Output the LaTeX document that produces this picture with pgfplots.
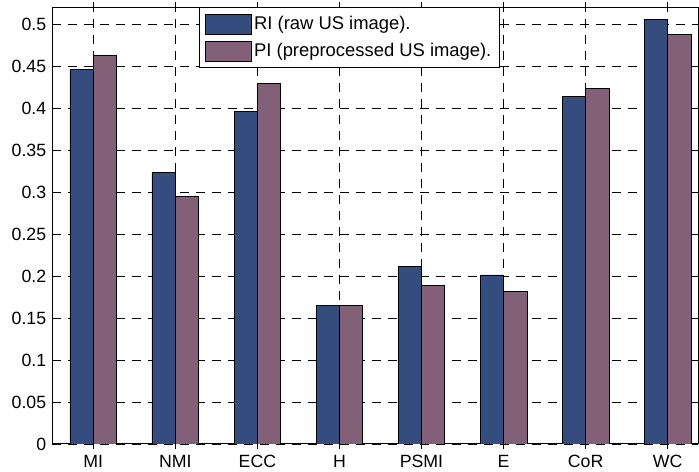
\documentclass[border=0pt]{standalone}
\usepackage{pgfplots}
\pgfplotsset{compat=1.18}
\usepackage{fontspec}
\setmainfont{Liberation Sans}
\definecolor{riblue}{RGB}{52,77,126}
\definecolor{pimauve}{RGB}{130,97,120}
\begin{document}
\begin{tikzpicture}
\fontsize{13}{15.6}\selectfont
\begin{axis}[
    scale only axis,
    width=484.3pt,
    height=327.4pt,
    xmin=0.5, xmax=8.37,
    ymin=0, ymax=0.52,
    xtick={1,2,3,4,5,6,7,8},
    xticklabels={MI,NMI,ECC,H,PSMI,E,CoR,WC},
    ytick={0,0.05,0.1,0.15,0.2,0.25,0.3,0.35,0.4,0.45,0.5},
    scaled y ticks=false,
    yticklabel style={/pgf/number format/fixed,/pgf/number format/precision=2},
    /pgf/number format/assume math mode=true,
    ticklabel style={font=\fontsize{13.3}{16}\selectfont},
    tick align=inside,
    major tick length=4pt,
    tick style={black, line width=0.6pt},
    axis line style={line width=0.75pt},
    grid=major,
    major grid style={black, line width=0.6pt, dash pattern=on 6.5pt off 5.5pt},
    ybar,
    bar width=0.285,
    legend image code/.code={\draw[#1] (0pt,-7.5pt) rectangle (34.5pt,7.5pt);},
    legend cell align=left,
    legend style={
        at={(0.227,1)}, anchor=north west,
        draw=black, line width=0.75pt,
        font=\fontsize{13.8}{16.5}\selectfont,
        inner xsep=4pt, inner ysep=4pt,
        row sep=4.5pt,
        nodes={inner sep=2pt},
    },
]
% RI (raw US image)
\addplot[fill=riblue, draw=black, line width=0.6pt, bar shift=-0.1425] coordinates {
(1,0.4458) (2,0.3230) (3,0.3965) (4,0.1645) (5,0.2118) (6,0.2014) (7,0.4140) (8,0.5054)
};
\addlegendentry{RI (raw US image).}
% PI (preprocessed US image)
\addplot[fill=pimauve, draw=black, line width=0.6pt, bar shift=0.1425] coordinates {
(1,0.4633) (2,0.2952) (3,0.4290) (4,0.1653) (5,0.1891) (6,0.1820) (7,0.4235) (8,0.4878)
};
\addlegendentry{PI (preprocessed US image).}
\end{axis}
\pgfresetboundingbox
\path ([shift={(-39.2pt,-21pt)}]current axis.south west) rectangle ([shift={(0.75pt,5.6pt)}]current axis.north east);
\end{tikzpicture}
\end{document}
